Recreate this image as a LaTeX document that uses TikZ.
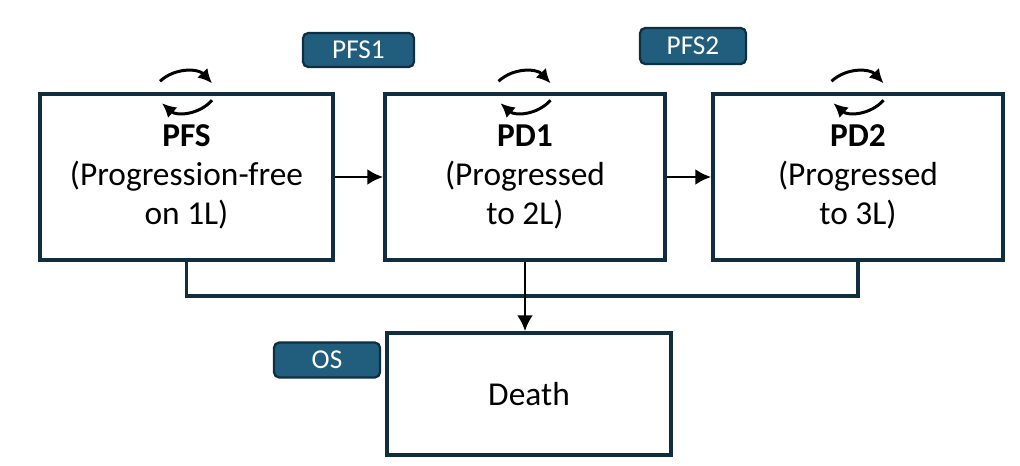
\documentclass[tikz,border=0pt]{standalone}
\usepackage{fontspec}
\setmainfont{Carlito}
\usepackage{tikz}
\usetikzlibrary{arrows.meta}

\definecolor{boxline}{HTML}{112E3F}
\definecolor{badgefill}{HTML}{215E7E}
\definecolor{badgeline}{HTML}{0E2F42}

\begin{document}
\begin{tikzpicture}[state/.style={draw=boxline, line width=2pt, align=center,
            font=\fontsize{19}{22.4}\selectfont},
        badge/.style={draw=badgeline, fill=badgefill, line width=1.3pt, rounded corners=3pt,
            text=white, minimum width=2.12cm, minimum height=0.68cm, inner sep=0pt,
            font=\fontsize{15.5}{18}\selectfont},
        move/.style={-{Latex[length=9pt,width=9pt]}, line width=1.7pt},
        cycle/.style={-{Latex[length=8pt,width=8pt]}, line width=1.7pt, bend left=45}]
        \useasboundingbox (0,0) rectangle (20.4,-9.32);

        \node [state, minimum width=5.86cm, minimum height=3.32cm] (PFS) at (3.73,-3.54) {\textbf{PFS}\\(Progression-free\\on 1L)};
        \node [state, minimum width=5.6cm, minimum height=3.32cm] (PD1) at (10.5,-3.54) {\textbf{PD1}\\(Progressed\\to 2L)};
        \node [state, minimum width=5.8cm, minimum height=3.32cm] (PD2) at (17.16,-3.54) {\textbf{PD2}\\(Progressed\\to 3L)};
        \node [state, minimum width=5.68cm, minimum height=2.44cm] (D) at (10.58,-7.88) {Death};

        \node [badge, minimum width=2.22cm] (B1) at (7.17,-1.0) {PFS1};
        \node [badge, minimum height=0.72cm] (B2) at (13.86,-0.92) {PFS2};
        \node [badge, minimum height=0.7cm] (B3) at (6.54,-7.2) {OS};

        % transitions
        \draw [move] (PFS) edge (PD1);
        \draw [move] (PD1) edge (PD2);
        \draw [boxline, line width=2pt] (PFS.south) -- ++(0,-0.68) -| (PD2.south);
        \draw [move] (PD1.south) -- (PD1.south |- D.north);

        % staying in state
        \draw [cycle] ([shift={(-0.53,0.22)}]PFS.north) to ([shift={(0.51,0.18)}]PFS.north);
        \draw [cycle] ([shift={(0.51,-0.16)}]PFS.north) to ([shift={(-0.49,-0.22)}]PFS.north);
        \draw [cycle] ([shift={(-0.53,0.22)}]PD1.north) to ([shift={(0.51,0.18)}]PD1.north);
        \draw [cycle] ([shift={(0.51,-0.16)}]PD1.north) to ([shift={(-0.49,-0.22)}]PD1.north);
        \draw [cycle] ([shift={(-0.53,0.22)}]PD2.north) to ([shift={(0.51,0.18)}]PD2.north);
        \draw [cycle] ([shift={(0.51,-0.16)}]PD2.north) to ([shift={(-0.49,-0.22)}]PD2.north);
\end{tikzpicture}
\end{document}
